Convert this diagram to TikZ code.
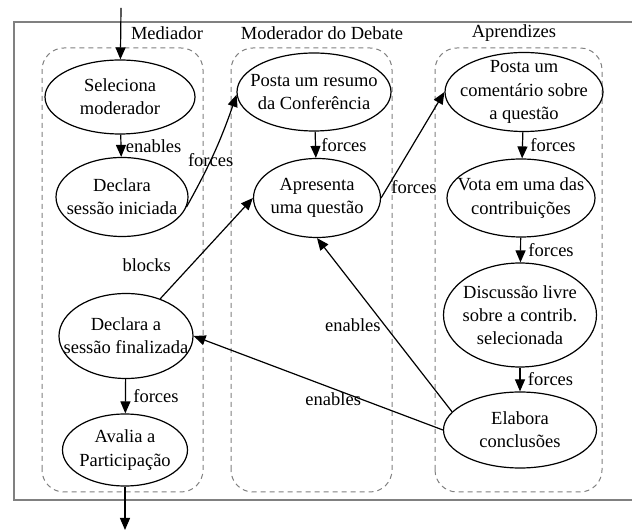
\documentclass[tikz,border=0pt]{standalone}
\usepackage{fontspec}
\setmainfont{Liberation Serif}
\usetikzlibrary{shapes.geometric,arrows.meta}
\definecolor{cinza}{RGB}{128,128,128}
\begin{document}
\begin{tikzpicture}[x=1pt,y=1pt,
  every node/.style={font=\fontsize{18.5}{23.3}\selectfont},
  atividade/.style={ellipse,draw,line width=1.2pt,inner sep=-20pt,align=center},
  seta/.style={-{Triangle[length=12pt,width=10pt]},line width=1.2pt},
  grupo/.style={draw=cinza,dash pattern=on 5pt off 4pt,line width=1pt,rounded corners=22pt}]
\useasboundingbox (0,0) rectangle (632,530);
% moldura e grupos
\draw [cinza,line width=1.3pt] (632,508)--(14,508)--(14,30)--(632,30);
\draw [grupo] (42,38) rectangle (203,482);
\draw [grupo] (231,38) rectangle (392,482);
\draw [grupo] (435,38) rectangle (602,482);
\node (tmed) at (167,497) {Mediador};
\node (tmod) at (322,497) {Moderador do Debate};
\node (tapr) at (514,497) {Aprendizes};

% Mediador
\node [atividade,minimum width=150pt,minimum height=74pt] (sel) at (120,433) {Seleciona\\moderador};
\node [atividade,minimum width=132pt,minimum height=79pt] (ini) at (122,333) {Declara\\sessão iniciada};
\node [atividade,minimum width=134pt,minimum height=85pt] (fin) at (126,194) {Declara a\\sessão finalizada};
\node [atividade,minimum width=125pt,minimum height=72pt] (ava) at (125,80) {Avalia a\\Participação};

% Moderador do Debate
\node [atividade,minimum width=154pt,minimum height=78pt] (res) at (314,438) {Posta um resumo\\da Conferência};
\node [atividade,minimum width=127pt,minimum height=79pt] (que) at (317,332) {Apresenta\\uma questão};

% Aprendizes
\node [atividade,minimum width=158pt,minimum height=79pt] (com) at (524,438) {Posta um\\comentário sobre\\a questão};
\node [atividade,minimum width=148pt,minimum height=78pt] (vot) at (521,332) {Vota em uma das\\contribuições};
\node [atividade,minimum width=153pt,minimum height=104pt] (dis) at (520,215) {Discussão livre\\sobre a contrib.\\selecionada};
\node [atividade,minimum width=153pt,minimum height=76pt] (ela) at (520,100) {Elabora\\conclusões};

\coordinate (inicio) at (121,522);
\coordinate (fim) at (125,0);

\draw [seta] (inicio)--(sel);
\draw [seta] (sel)--(ini) node[midway,right=1pt] {enables};
\draw [seta] (ini.-9) to[bend right=5] node[pos=0.42] {forces} (res.182);
\draw [seta] (res)--(que) node[midway,right=2pt] {forces};
\draw [seta] (que.east)--(com.west) node[pos=0.1,right] {forces};
\draw [seta] (com)--(vot) node[midway,right=4pt] {forces};
\draw [seta] (vot)--(dis) node[midway,right=4pt] {forces};
\draw [seta] (dis)--(ela) node[midway,right=4pt] {forces};
\draw [seta] (ela.165)--(que.south) node[pos=0.5,left] {enables};
\draw [seta] (ela.west)--(fin.east) node[pos=0.44,below] {enables};
\draw [seta] (fin)--(que.west) node[pos=0.33,left=16pt] {blocks};
\draw [seta] (fin)--(ava) node[midway,right=4pt] {forces};
\draw [seta] (ava)--(fim);
\end{tikzpicture}
\end{document}
